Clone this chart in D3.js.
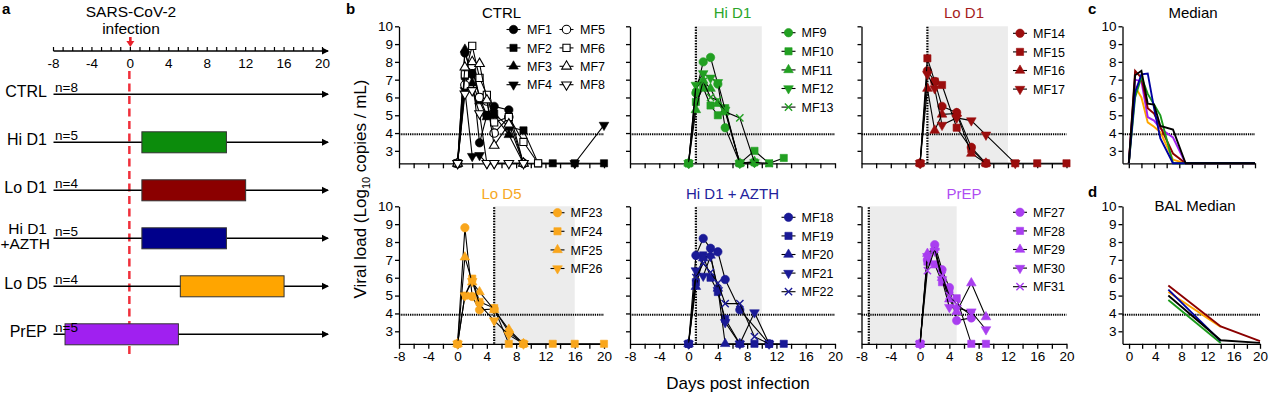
<!DOCTYPE html>
<html><head><meta charset="utf-8">
<script src="https://cdn.jsdelivr.net/npm/d3@7"></script>
<style>body{margin:0;background:#fff}svg{display:block}text{font-family:"Liberation Sans",Arial,Helvetica,sans-serif}</style>
</head><body><svg id="c" width="1280" height="394"></svg>
<script>
// ================= DATA =================
// Panel a: treatment schedules
const schedGroups = ["CTRL", "Hi D1", "Lo D1", "Hi D1|+AZTH", "Lo D5", "PrEP"];
const schedN = [8, 5, 4, 5, 4, 5];
const schedStart = [null, 1.2, 1.2, 1.2, 5.2, -6.8];
const schedEnd = [null, 10, 12, 10, 16, 5];
const timelineTicks = [-8, -4, 0, 4, 8, 12, 16, 20];

// Panel b: viral load (log10 copies/mL) by day post infection
const ctrlDays = [0, 1, 2, 3, 4, 5, 7, 9, 11, 13, 16, 20];
const MF1 = [2.3, 8.5, 7.3, 3.45, 5.0, 5.5, 5.3, 2.3, null, null, null, null];
const MF2 = [2.3, 7.2, 7.6, 6.0, 5.0, 5.1, 4.35, 4.15, 2.3, 2.3, 2.3, 2.3];
const MF3 = [2.3, 8.7, 6.8, 5.8, 4.9, 5.0, 3.9, 2.3, null, null, null, null];
const MF4 = [2.3, 6.4, 2.7, 2.75, 2.3, 2.3, null, null, null, null, 2.3, 4.45];
const MF5 = [2.3, 6.7, 7.8, 6.0, 5.8, 4.0, 4.9, 2.3, null, null, null, null];
const MF6 = [2.3, 7.3, 8.9, 7.1, 6.15, 4.6, 4.9, 3.5, 2.3, null, null, null];
const MF7 = [2.3, 7.7, 8.0, 7.9, 5.85, 3.3, 4.5, 2.3, null, null, null, null];
const MF8 = [2.3, 6.2, 6.4, 5.1, 2.3, 2.3, 2.3, 2.3, null, null, null, null];

const hiD1Days = [0, 1, 2, 3, 4, 5, 7, 9, 11, 13];
const MF9  = [2.3, 6.25, 8.0, 8.25, 6.75, 4.3, 2.3, 2.35, null, null];
const MF10 = [2.3, 5.75, 6.55, 5.55, 5.0, 5.4, 2.3, 3.0, 2.3, 2.6];
const MF11 = [2.3, 5.3, 6.95, 6.5, 5.65, 5.2, 2.3, 2.4, null, null];
const MF12 = [2.3, 6.7, 7.35, 7.1, 6.85, 5.3, 2.3, 2.35, null, null];
const MF13 = [2.3, 6.6, 6.9, 6.0, 5.85, 5.2, 4.85, 2.35, 2.3, null];

const loD1Days = [0, 1, 2, 3, 5, 7, 9, 13, 16, 20];
const MF14 = [2.3, 7.5, 6.9, 5.5, 5.15, 3.2, 2.3, null, null, null];
const MF15 = [2.3, 8.2, 6.9, 6.7, 4.3, 3.1, 2.3, 2.3, 2.3, 2.3];
const MF16 = [2.3, 6.5, 4.15, 5.05, 5.1, 2.85, 2.3, null, null, null];
const MF17 = [2.3, 7.3, 6.5, 4.45, 4.85, 4.7, 3.9, 2.3, null, null];

const loD5Days = [0, 1, 2, 3, 5, 7, 9, 13, 16, 20];
const MF23 = [2.3, 8.8, 4.95, 4.2, 4.25, 2.95, 2.3, null, null, null];
const MF24 = [2.3, 5.0, 5.95, 4.65, 4.3, 2.3, 2.3, 2.3, 2.3, 2.3];
const MF25 = [2.3, 7.15, 5.75, 5.2, 4.2, 3.1, 2.3, null, null, null];
const MF26 = [2.3, 5.0, 5.8, 4.5, 3.6, 2.8, 2.3, null, null, null];

const azthDays = [0, 1, 2, 3, 4, 5, 7, 9, 11, 13];
const MF18 = [2.3, 7.25, 8.2, 7.65, 7.45, 5.9, 4.2, null, 2.3, null];
const MF19 = [2.3, 5.75, 7.25, 6.0, 5.2, 3.7, 2.3, 2.3, 2.3, 2.3];
const MF20 = [2.3, 5.5, 7.1, 7.25, 5.4, 2.3, 2.3, null, null, null];
const MF21 = [2.3, 6.4, 6.1, 7.2, 5.3, 3.5, 2.3, 4.05, 2.3, null];
const MF22 = [2.3, 6.0, 6.8, 6.3, 5.7, 4.55, 4.55, 2.7, 2.3, null];

const prepDays = [0, 1, 2, 3, 4, 5, 7, 9];
const MF27 = [2.3, 7.0, 7.85, 6.45, 5.45, 3.6, 3.75, null];
const MF28 = [2.3, 6.9, 6.75, 5.75, 5.25, 4.85, 2.3, 2.3];
const MF29 = [2.3, 7.35, 7.7, 6.0, 4.8, 4.1, 5.7, 3.8];
const MF30 = [2.3, 7.2, 7.5, 5.9, 4.35, 4.3, 4.1, 3.1];
const MF31 = [2.3, 6.4, 7.6, 6.1, 5.0, 4.5, 3.9, null];

// treatment windows shown in panel b (days)
const shadeStart = [null, 1, 1, 5, 1, -7];
const shadeEnd = [null, 10, 12, 16, 10, 5];
const lodValue = 3.93;

// Panel c: group medians
const medDays = [0, 1, 2, 3, 4, 5, 7, 9, 11, 13, 16, 20];
const medCTRL = [2.3, 7.25, 7.5, 5.65, 5.6, 4.4, 4.2, 2.3, 2.3, 2.3, 2.3, 2.3];
const medHiD1 = [2.3, 6.0, 7.15, 6.2, 5.6, 5.0, 2.3, 2.3, 2.3, 2.3, 2.3, 2.3];
const medLoD1 = [2.3, 7.5, 7.1, 5.4, 5.1, 4.35, 2.85, 2.3, 2.3, 2.3, 2.3, 2.3];
const medLoD5 = [2.3, 6.6, 6.0, 4.6, 4.35, 4.05, 2.5, 2.3, 2.3, 2.3, 2.3, 2.3];
const medAZTH = [2.3, 6.3, 7.3, 7.35, 5.4, 3.7, 2.3, 2.3, 2.3, 2.3, 2.3, 2.3];
const medPrEP = [2.3, 7.0, 6.9, 4.9, 4.7, 4.25, 3.75, 2.3, 2.3, 2.3, 2.3, 2.3];

// Panel d: BAL medians
const balDays = [6, 14, 20];
const balCTRL = [5.0, 2.5, 2.35];
const balHiD1 = [4.75, 2.35, null];
const balLoD5 = [5.2, 3.25, null];
const balAZTH = [5.33, 2.45, null];
const balLoD1 = [5.57, 3.27, 2.45];

// ================= DRAWING =================
const svg = d3.select("#c");
const C = {
  green: "#22a022", red: "#9b0d0d", orange: "#f9a61c", navy: "#1a1a96", purple: "#a93ef0",
  tGreen: "#2aa52a", tRed: "#a51c1c", tOrange: "#f7a823", tNavy: "#22229c", tPurple: "#b04cf2",
  bGreen: "#0c8c0c", bRed: "#8b0000", bNavy: "#00008b", bOrange: "#ffa500", bPurple: "#a020f0"
};

function letter(t, x, y) {
  svg.append("text").attr("x", x).attr("y", y).attr("font-size", 15).attr("font-weight", "bold").text(t);
}
function arrowRight(x, y) {
  svg.append("path").attr("d", `M${x-7},${y-3.5}L${x},${y}L${x-7},${y+3.5}Z`).attr("fill", "#000");
}

// ---------- Panel a ----------
letter("a", 2, 14);
const xa = d3.scaleLinear().domain([-8, 20]).range([53.5, 322.5]);
const rowY = d3.scaleLinear().domain([0, 1]).range([94.3, 142.3]);
svg.append("text").attr("x", 131).attr("y", 16.8).attr("text-anchor", "middle").attr("font-size", 15.5).text("SARS-CoV-2");
svg.append("text").attr("x", 131).attr("y", 34.2).attr("text-anchor", "middle").attr("font-size", 15.5).text("infection");
// red arrow
svg.append("rect").attr("x", xa(0) - 1.3).attr("y", 37).attr("width", 2.6).attr("height", 4.5).attr("fill", "#e8202a");
svg.append("path").attr("d", `M${xa(0)-4},41L${xa(0)+4},41L${xa(0)},47Z`).attr("fill", "#e8202a");
// timeline axis
const axY = 51;
svg.append("line").attr("x1", xa(-8)).attr("x2", 328).attr("y1", axY).attr("y2", axY).attr("stroke", "#000").attr("stroke-width", 1.5);
arrowRight(329, axY);
svg.selectAll(".ta").data(d3.range(-8, 21, 1)).join("line")
  .attr("x1", d => xa(d)).attr("x2", d => xa(d)).attr("y1", axY - 4).attr("y2", axY)
  .attr("stroke", "#000").attr("stroke-width", 1.2);
svg.selectAll(".tl").data(timelineTicks).join("text")
  .attr("x", d => xa(d)).attr("y", 67.5).attr("text-anchor", "middle").attr("font-size", 13.5).text(d => String(d));
// dashed infection line
svg.append("line").attr("x1", xa(0) - 1).attr("x2", xa(0) - 1).attr("y1", 71).attr("y2", 354)
  .attr("stroke", "#f0303c").attr("stroke-width", 2.5).attr("stroke-dasharray", "8,4.5");
const boxCol = [null, C.bGreen, C.bRed, C.bNavy, C.bOrange, C.bPurple];
schedGroups.forEach((g, i) => {
  const y = rowY(i);
  svg.append("line").attr("x1", xa(-8)).attr("x2", 328).attr("y1", y).attr("y2", y).attr("stroke", "#000").attr("stroke-width", 1.5);
  arrowRight(329, y);
  if (schedStart[i] !== null) {
    svg.append("rect").attr("x", xa(schedStart[i])).attr("y", y - 10.5)
      .attr("width", xa(schedEnd[i]) - xa(schedStart[i])).attr("height", 21)
      .attr("fill", boxCol[i]).attr("stroke", "#333").attr("stroke-width", 1);
  }
  const parts = g.split("|");
  if (parts.length === 1) {
    svg.append("text").attr("x", 47).attr("y", y + 3).attr("text-anchor", "end").attr("font-size", 16).text(parts[0]);
  } else {
    const t = svg.append("text").attr("text-anchor", "end").attr("font-size", 15.5);
    t.append("tspan").attr("x", 47).attr("y", y - 4.5).text(parts[0]);
    t.append("tspan").attr("x", 50).attr("y", y + 11).text(parts[1]);
  }
  const covered = schedStart[i] !== null && xa(schedStart[i]) < 60;
  svg.append("text").attr("x", 55).attr("y", covered ? y - 13.5 : y - 2).attr("font-size", 13.5).text("n=" + schedN[i]);
});

// ---------- shared helpers ----------
function symbolPath(shape) {
  const t = { circle: d3.symbolCircle, square: d3.symbolSquare, tri: d3.symbolTriangle, triDown: d3.symbolTriangle, x: d3.symbolTimes }[shape];
  const s = { circle: 56, square: 52, tri: 40, triDown: 40, x: 36 }[shape];
  return d3.symbol(t, s)();
}
function drawMarker(g, x, y, shape, color, open) {
  const p = g.append("path").attr("d", symbolPath(shape))
    .attr("transform", `translate(${x},${y})` + (shape === "triDown" ? " rotate(180)" : ""));
  if (shape === "x") {
    p.attr("fill", "none").attr("stroke", color).attr("stroke-width", 1.4);
  } else if (open) {
    p.attr("fill", "#fff").attr("stroke", "#000").attr("stroke-width", 1.1);
  } else {
    p.attr("fill", color).attr("stroke", color).attr("stroke-width", 0.6);
  }
}
function drawFrame(g, x, y, opt) {
  const yAx = g.append("g").attr("transform", `translate(${x.range()[0]},0)`)
    .call(d3.axisLeft(y).tickValues(d3.range(3, 11)).tickSize(4).tickSizeOuter(0).tickPadding(2)
      .tickFormat(opt.yLabels ? d => String(d) : ""));
  const xAx = g.append("g").attr("transform", `translate(0,${y.range()[0]})`)
    .call(d3.axisBottom(x).tickValues(d3.range(opt.xMin, 21, 2)).tickSize(5).tickSizeOuter(0).tickPadding(3)
      .tickFormat(d => (opt.xLabels && d % 4 === 0) ? String(d) : ""));
  [yAx, xAx].forEach(a => {
    a.selectAll("path,line").attr("stroke", "#000").attr("stroke-width", 1.3);
    a.selectAll("text").attr("font-size", 13.5).attr("fill", "#000").attr("font-family", '"Liberation Sans",Arial,sans-serif');
  });
}
function lodLine(g, x1, x2, y) {
  g.append("line").attr("x1", x1).attr("x2", x2).attr("y1", y(lodValue)).attr("y2", y(lodValue))
    .attr("stroke", "#000").attr("stroke-width", 2).attr("stroke-dasharray", "1.3,0.9");
}

// ---------- Panel b ----------
letter("b", 346, 14);
const yTop = d3.scaleLinear().domain([2.3, 10]).range([163.3, 26.3]);
const yBot = d3.scaleLinear().domain([2.3, 10]).range([343.8, 206.3]);
const colX = [399, 630, 861.5];
const panels = [
  { title: "CTRL", tcol: "#000", mcol: "#000", col: 0, row: 0, days: ctrlDays,
    names: ["MF1","MF2","MF3","MF4","MF5","MF6","MF7","MF8"], vals: [MF1,MF2,MF3,MF4,MF5,MF6,MF7,MF8],
    shapes: ["circle","square","tri","triDown","circle","square","tri","triDown"], open: [0,0,0,0,1,1,1,1], leg0: 29.5 },
  { title: "Hi D1", tcol: C.tGreen, mcol: C.green, col: 1, row: 0, days: hiD1Days,
    names: ["MF9","MF10","MF11","MF12","MF13"], vals: [MF9,MF10,MF11,MF12,MF13],
    shapes: ["circle","square","tri","triDown","x"], open: [0,0,0,0,0], leg0: 32.7 },
  { title: "Lo D1", tcol: C.tRed, mcol: C.red, col: 2, row: 0, days: loD1Days,
    names: ["MF14","MF15","MF16","MF17"], vals: [MF14,MF15,MF16,MF17],
    shapes: ["circle","square","tri","triDown"], open: [0,0,0,0], leg0: 33.3 },
  { title: "Lo D5", tcol: C.tOrange, mcol: C.orange, col: 0, row: 1, days: loD5Days,
    names: ["MF23","MF24","MF25","MF26"], vals: [MF23,MF24,MF25,MF26],
    shapes: ["circle","square","tri","triDown"], open: [0,0,0,0], leg0: 212.7 },
  { title: "Hi D1 + AZTH", tcol: C.tNavy, mcol: C.navy, col: 1, row: 1, days: azthDays,
    names: ["MF18","MF19","MF20","MF21","MF22"], vals: [MF18,MF19,MF20,MF21,MF22],
    shapes: ["circle","square","tri","triDown","x"], open: [0,0,0,0,0], leg0: 217.3 },
  { title: "PrEP", tcol: C.tPurple, mcol: C.purple, col: 2, row: 1, days: prepDays,
    names: ["MF27","MF28","MF29","MF30","MF31"], vals: [MF27,MF28,MF29,MF30,MF31],
    shapes: ["circle","square","tri","triDown","x"], open: [0,0,0,0,0], leg0: 212.3 }
];
const shadeIdx = { "CTRL": 0, "Hi D1": 1, "Lo D1": 2, "Lo D5": 3, "Hi D1 + AZTH": 4, "PrEP": 5 };

panels.forEach(P => {
  const g = svg.append("g");
  const x = d3.scaleLinear().domain([-8, 20]).range([colX[P.col], colX[P.col] + 205]);
  const y = P.row === 0 ? yTop : yBot;
  const si = shadeIdx[P.title];
  if (shadeStart[si] !== null) {
    g.append("rect").attr("x", x(shadeStart[si])).attr("y", y(10))
      .attr("width", x(shadeEnd[si]) - x(shadeStart[si])).attr("height", y(2.3) - y(10)).attr("fill", "#ececec");
  }
  drawFrame(g, x, y, { yLabels: P.col === 0, xLabels: P.row === 1, xMin: -8 });
  lodLine(g, x(-8), x(20), y);
  if (shadeStart[si] !== null) {
    g.append("line").attr("x1", x(shadeStart[si])).attr("x2", x(shadeStart[si])).attr("y1", y(2.3)).attr("y2", y(10))
      .attr("stroke", "#000").attr("stroke-width", 2.2).attr("stroke-dasharray", "1.5,1.2");
  }
  g.append("text").attr("x", colX[P.col] + 102.5).attr("y", P.row === 0 ? 18.3 : 199)
    .attr("text-anchor", "middle").attr("font-size", 15).attr("fill", P.tcol).text(P.title);
  const line = d3.line().x(d => x(d[0])).y(d => y(d[1]));
  P.vals.forEach((v, k) => {
    const pts = P.days.map((d, j) => [d, v[j]]).filter(p => p[1] !== null);
    g.append("path").attr("d", line(pts)).attr("fill", "none").attr("stroke", "#000").attr("stroke-width", 1.1);
    pts.forEach(p => drawMarker(g, x(p[0]), y(p[1]), P.shapes[k], P.mcol, P.open[k]));
  });
  // legend
  P.names.forEach((n, k) => {
    let mx, tx, ly;
    if (P.title === "CTRL") {
      const c = Math.floor(k / 4), r = k % 4;
      mx = colX[0] + (c === 0 ? 114.5 : 167.5); tx = mx + 13.5;
      ly = P.leg0 + r * 18.4;
    } else {
      mx = colX[P.col] + 158.5; tx = colX[P.col] + 171.5; ly = P.leg0 + k * 18.6;
    }
    g.append("line").attr("x1", mx - 7).attr("x2", mx + 7).attr("y1", ly).attr("y2", ly).attr("stroke", "#000").attr("stroke-width", 1.1);
    drawMarker(g, mx, ly, P.shapes[k], P.mcol, P.open[k]);
    g.append("text").attr("x", tx).attr("y", ly + 4.6).attr("font-size", 12.5).text(n);
  });
});
// axis titles
const yl = svg.append("text").attr("transform", "translate(366,189) rotate(-90)").attr("text-anchor", "middle").attr("font-size", 17);
yl.append("tspan").text("Viral load (Log");
yl.append("tspan").attr("font-size", 11).attr("dy", 4).text("10");
yl.append("tspan").attr("dy", -4).text(" copies / mL)");
svg.append("text").attr("x", 738).attr("y", 389).attr("text-anchor", "middle").attr("font-size", 17).text("Days post infection");

// ---------- Panel c ----------
letter("c", 1088, 14);
const xc = d3.scaleLinear().domain([-1, 20]).range([1122.5, 1255]);
const gc = svg.append("g");
drawFrame(gc, xc, yTop, { yLabels: true, xLabels: false, xMin: 0 });
lodLine(gc, 1122.5, 1255, yTop);
gc.append("text").attr("x", 1193).attr("y", 18.3).attr("text-anchor", "middle").attr("font-size", 15).text("Median");
const medSeries = [[medLoD5, "#ffa500"], [medPrEP, "#a020f0"], [medLoD1, "#8b0000"], [medHiD1, "#1a9a1a"], [medAZTH, "#0000a0"], [medCTRL, "#000"]];
const lc = d3.line().x(d => xc(d[0])).y(d => yTop(d[1]));
medSeries.forEach(([v, col]) => {
  const pts = medDays.map((d, j) => [d, v[j]]).filter(p => p[1] !== null);
  gc.append("path").attr("d", lc(pts)).attr("fill", "none").attr("stroke", col).attr("stroke-width", 1.9);
});

// ---------- Panel d ----------
letter("d", 1088, 196.7);
const xd = d3.scaleLinear().domain([-1, 20]).range([1122.5, 1260]);
const gd = svg.append("g");
drawFrame(gd, xd, yBot, { yLabels: true, xLabels: true, xMin: 0 });
lodLine(gd, 1122.5, 1260, yBot);
gd.append("text").attr("x", 1195).attr("y", 210.7).attr("text-anchor", "middle").attr("font-size", 15).text("BAL Median");
const balSeries = [[balHiD1, "#1a9a1a"], [balLoD5, "#ffa500"], [balAZTH, "#0000a0"], [balCTRL, "#000"], [balLoD1, "#8b0000"]];
const ld = d3.line().x(d => xd(d[0])).y(d => yBot(d[1]));
balSeries.forEach(([v, col]) => {
  const pts = balDays.map((d, j) => [d, v[j]]).filter(p => p[1] !== null);
  gd.append("path").attr("d", ld(pts)).attr("fill", "none").attr("stroke", col).attr("stroke-width", 1.9);
});
</script></body></html>
